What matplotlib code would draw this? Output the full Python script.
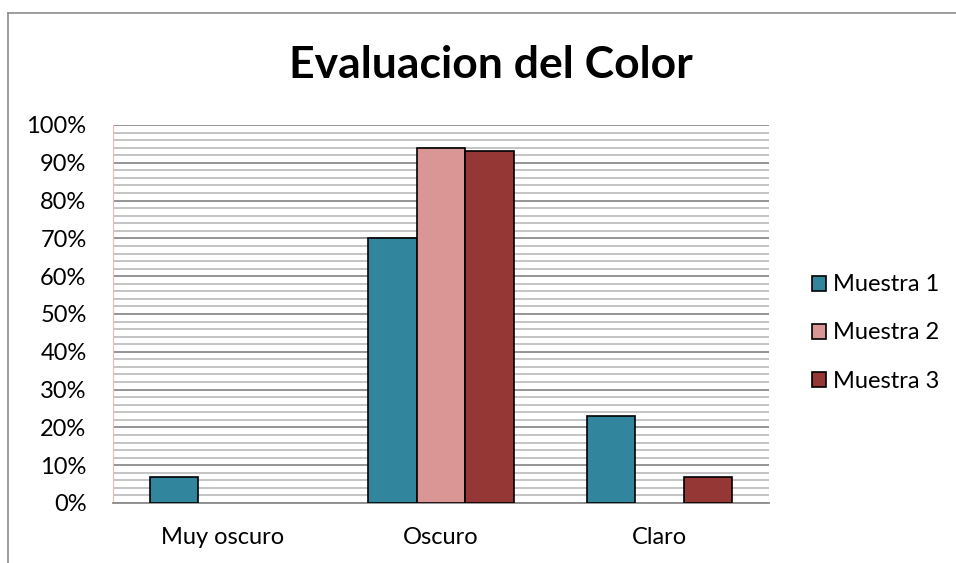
import numpy as np
import matplotlib.pyplot as plt
from matplotlib.lines import Line2D

categories = ["Muy oscuro", "Oscuro", "Claro"]
series_names = ["Muestra 1", "Muestra 2", "Muestra 3"]
muestra1 = [7, 70, 23]
muestra2 = [0, 94, 0]
muestra3 = [0, 93, 7]
colors = ["#31859C", "#D99694", "#953735"]

plt.rcParams["font.family"] = ["Lato", "DejaVu Sans"]

fig = plt.figure(figsize=(9.56, 5.63), dpi=100)
ax = fig.add_axes([0.1182, 0.1066, 0.6862, 0.6714])

x = np.arange(len(categories))
w = 0.222
for i, (vals, name, c) in enumerate(zip([muestra1, muestra2, muestra3], series_names, colors)):
    vals = np.array(vals, dtype=float)
    mask = vals > 0
    ax.bar(x[mask] + (i - 1) * w, vals[mask], width=w, color=c,
           edgecolor="black", linewidth=1.2, label=name, zorder=3)

ax.set_xlim(-0.5, 2.5)
ax.set_ylim(0, 100)
ax.set_yticks(np.arange(0, 101, 10))
ax.set_yticklabels([f"{v}%" for v in range(0, 101, 10)], fontsize=17)
ax.set_yticks(np.arange(0, 101, 2), minor=True)
ax.set_xticks(x)
ax.set_xticklabels(categories, fontsize=17)
ax.tick_params(axis="both", which="both", length=0)
ax.tick_params(axis="y", pad=19)
ax.tick_params(axis="x", pad=17)
ax.grid(axis="y", which="minor", color="#BFBFBF", linewidth=1.3, zorder=0)
ax.grid(axis="y", which="major", color="#8C8C8C", linewidth=1.3, zorder=1)

for s in ["top", "right"]:
    ax.spines[s].set_visible(False)
ax.spines["left"].set_color("#F2B8B8")
ax.spines["bottom"].set_color("#8C8C8C")
ax.spines["bottom"].set_linewidth(1.3)

fig.text(0.513, 0.885, "Evaluacion del Color", ha="center", va="center",
         fontsize=32, fontweight="bold")

ax.legend(loc="center left", bbox_to_anchor=(0.8395, 1 - 333 / 563),
          bbox_transform=fig.transFigure, frameon=False,
          fontsize=17, handlelength=0.6, handleheight=0.6, handletextpad=0.3,
          labelspacing=1.15, borderaxespad=0)

# outer chart frame
fig.add_artist(Line2D([8 / 956, 1.0], [1 - 13 / 563, 1 - 13 / 563],
                      transform=fig.transFigure, color="#8C8C8C", linewidth=1.2))
fig.add_artist(Line2D([8 / 956, 8 / 956], [1 - 13 / 563, 0.0],
                      transform=fig.transFigure, color="#8C8C8C", linewidth=1.2))

fig.savefig("out.png", dpi=100, facecolor="white")
